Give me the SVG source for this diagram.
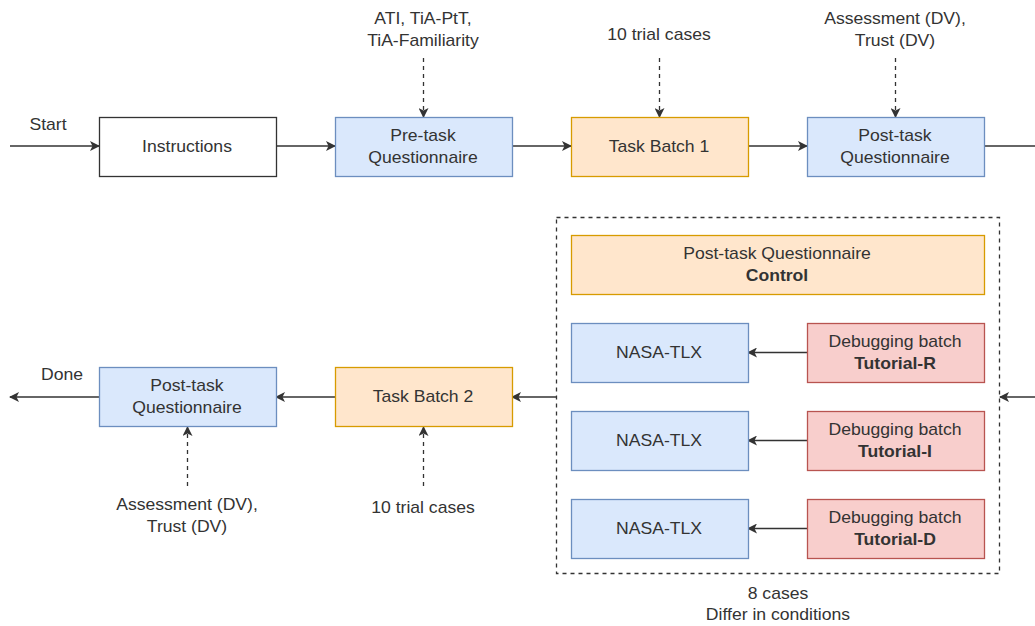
<svg xmlns="http://www.w3.org/2000/svg" width="1035" height="626" viewBox="0 0 1035 626">
<defs>
<marker id="arr" viewBox="0 0 10 10" refX="9" refY="5" markerWidth="10" markerHeight="10" markerUnits="userSpaceOnUse" orient="auto">
<path d="M0,0 L10,5 L0,10 L2.5,5 Z" fill="#333"/>
</marker>
</defs>
<style>
text{font-family:"Liberation Sans",Arial,sans-serif;font-size:16px;fill:#333;text-anchor:middle;transform-box:fill-box;transform-origin:center;transform:scaleX(1.1)}
.b{font-weight:bold}
.blue{fill:#dae8fc;stroke:#6c8ebf;stroke-width:1.3}
.orange{fill:#ffe6cc;stroke:#d79b00;stroke-width:1.3}
.red{fill:#f8cecc;stroke:#b85450;stroke-width:1.3}
.white{fill:#fff;stroke:#333;stroke-width:1.3}
.ln{stroke:#333;stroke-width:1.3;fill:none}
.ar{stroke:#333;stroke-width:1.3;fill:none;marker-end:url(#arr)}
.da{stroke:#333;stroke-width:1.3;fill:none;stroke-dasharray:4 4;marker-end:url(#arr)}
</style>
<rect width="1035" height="626" fill="#fff"/>
<g id="group-box">
<rect x="556.5" y="217.5" width="443" height="356" fill="none" stroke="#333" stroke-width="1.3" stroke-dasharray="4 4"/>
<text x="778" y="599">8 cases</text>
<text x="778" y="620">Differ in conditions</text>
</g>
<g id="connectors">
<line class="ar" x1="10" y1="146" x2="99" y2="146"/>
<text x="48" y="130">Start</text>
<line class="ar" x1="276" y1="146" x2="335" y2="146"/>
<line class="ar" x1="512" y1="146" x2="571" y2="146"/>
<line class="ar" x1="748" y1="146" x2="807" y2="146"/>
<line class="ln" x1="984" y1="146" x2="1035" y2="146"/>
<line class="da" x1="423.5" y1="58" x2="423.5" y2="117"/>
<line class="da" x1="659.5" y1="58" x2="659.5" y2="117"/>
<line class="da" x1="895.5" y1="58" x2="895.5" y2="117"/>
<line class="ar" x1="807" y1="352.5" x2="748" y2="352.5"/>
<line class="ar" x1="807" y1="440.5" x2="748" y2="440.5"/>
<line class="ar" x1="807" y1="528.5" x2="748" y2="528.5"/>
<line class="ar" x1="1035" y1="397" x2="1000" y2="397"/>
<line class="ar" x1="556" y1="397" x2="512" y2="397"/>
<line class="ar" x1="335" y1="397" x2="276" y2="397"/>
<line class="ar" x1="99" y1="397" x2="10" y2="397"/>
<text x="62" y="380">Done</text>
<line class="da" x1="187.5" y1="486" x2="187.5" y2="427"/>
<line class="da" x1="423.5" y1="486" x2="423.5" y2="427"/>
</g>
<g id="n-labels">
<text x="423" y="24">ATI, TiA-PtT,</text>
<text x="423" y="46">TiA-Familiarity</text>
<text x="659" y="40">10 trial cases</text>
<text x="895" y="24">Assessment (DV),</text>
<text x="895" y="46">Trust (DV)</text>
<text x="187" y="510">Assessment (DV),</text>
<text x="187" y="532">Trust (DV)</text>
<text x="423" y="513">10 trial cases</text>
</g>
<g id="instructions"><rect class="white" x="99.5" y="117.5" width="177" height="59"/><text x="187" y="152">Instructions</text></g>
<g id="pretask"><rect class="blue" x="335.5" y="117.5" width="177" height="59"/><text x="423" y="141">Pre-task</text><text x="423" y="163">Questionnaire</text></g>
<g id="batch1"><rect class="orange" x="571.5" y="117.5" width="177" height="59"/><text x="659" y="152">Task Batch 1</text></g>
<g id="posttask1"><rect class="blue" x="807.5" y="117.5" width="177" height="59"/><text x="895" y="141">Post-task</text><text x="895" y="163">Questionnaire</text></g>
<g id="control"><rect class="orange" x="571.5" y="235.5" width="413" height="59"/><text x="777" y="259">Post-task Questionnaire</text><text x="777" y="281" class="b">Control</text></g>
<g id="tlx1"><rect class="blue" x="571.5" y="323.5" width="177" height="59"/><text x="659" y="358">NASA-TLX</text></g>
<g id="tlx2"><rect class="blue" x="571.5" y="411.5" width="177" height="59"/><text x="659" y="446">NASA-TLX</text></g>
<g id="tlx3"><rect class="blue" x="571.5" y="499.5" width="177" height="59"/><text x="659" y="534">NASA-TLX</text></g>
<g id="tutR"><rect class="red" x="807.5" y="323.5" width="177" height="59"/><text x="895" y="347">Debugging batch</text><text x="895" y="369" class="b">Tutorial-R</text></g>
<g id="tutI"><rect class="red" x="807.5" y="411.5" width="177" height="59"/><text x="895" y="435">Debugging batch</text><text x="895" y="457" class="b">Tutorial-I</text></g>
<g id="tutD"><rect class="red" x="807.5" y="499.5" width="177" height="59"/><text x="895" y="523">Debugging batch</text><text x="895" y="545" class="b">Tutorial-D</text></g>
<g id="batch2"><rect class="orange" x="335.5" y="367.5" width="177" height="59"/><text x="423" y="402">Task Batch 2</text></g>
<g id="posttask2"><rect class="blue" x="99.5" y="367.5" width="177" height="59"/><text x="187" y="391">Post-task</text><text x="187" y="413">Questionnaire</text></g>
</svg>
